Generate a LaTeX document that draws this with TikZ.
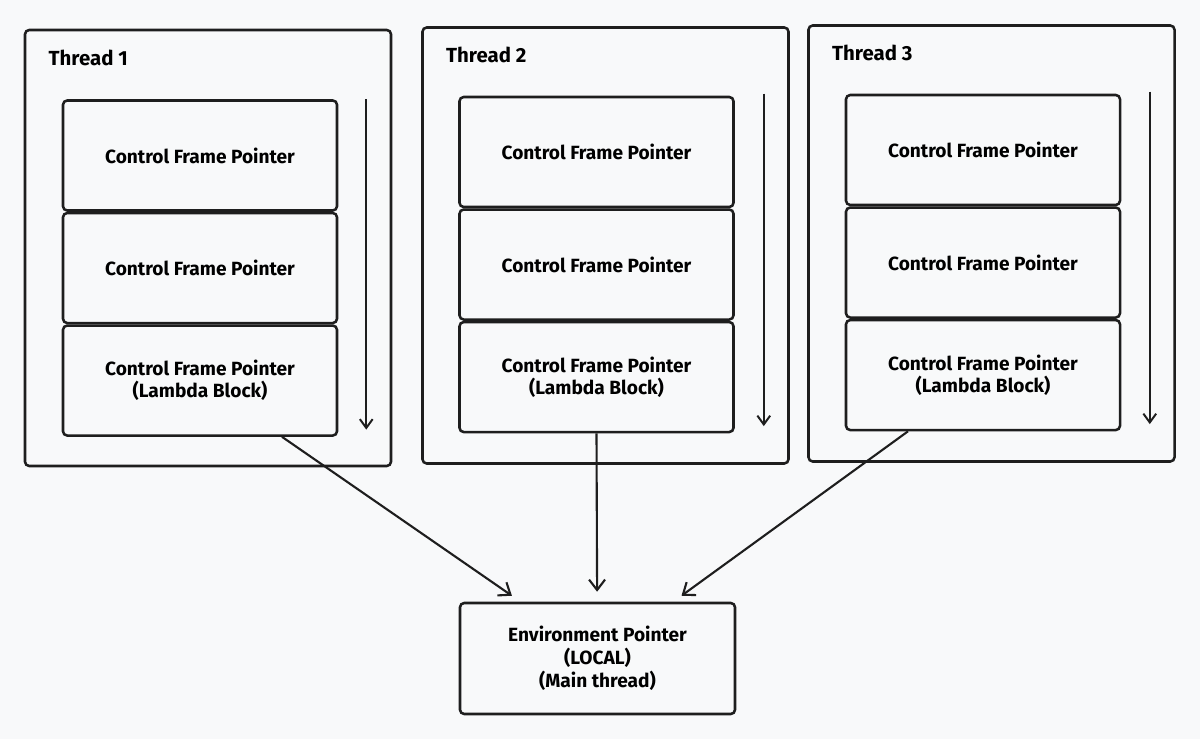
\documentclass[tikz,border=0pt]{standalone}
\usepackage{fontspec}
\setmainfont{Fira Sans}
\usepackage{tikz}
\usetikzlibrary{positioning, arrows.meta, calc}

\definecolor{paper}{HTML}{F8F9FA}
\definecolor{ink}{HTML}{1E1E1E}

\begin{document}
\begin{tikzpicture}[
                frame/.style={draw=ink, line width=1.8pt, rounded corners=3pt, minimum width=9.15cm, minimum height=10.9cm},
                cfp/.style={draw=ink, line width=1.8pt, rounded corners=3pt, minimum width=6.85cm, minimum height=2.75cm, align=center, font=\fontsize{13.6}{15.8}\selectfont\bfseries},
                envbox/.style={cfp, minimum width=6.875cm, minimum height=2.775cm, font=\fontsize{13.6}{16.4}\selectfont\bfseries},
                tlabel/.style={anchor=west, font=\fontsize{14.5}{17}\selectfont\bfseries},
                edge/.style={draw=ink, line width=1.5pt, -{Straight Barb[length=2.6mm, width=4mm]}},
                order/.style={draw=ink, line width=1.4pt, -{Straight Barb[length=2.2mm, width=3.2mm]}}
            ]

            \fill[paper] (0,0) rectangle (30,18.475);
            \useasboundingbox (0,0) rectangle (30,18.475);

            % Thread 1
            \node[frame] (T1) at (5.2,12.275) {};
            \node[tlabel] (T1l) at ([xshift=0.5cm,yshift=-0.72cm]T1.north west) {Thread 1};
            \node[cfp] (c11) at (5.0,14.5875) {Control Frame Pointer};
            \node[cfp, below=0.0cm of c11] (c12) {Control Frame Pointer};
            \node[cfp, below=0.0cm of c12] (c13) {Control Frame Pointer\\(Lambda Block)};
            \coordinate (o1a) at ([xshift=-0.65cm]T1.east |- c11.north);
            \coordinate (o1b) at ([yshift=0.18cm]o1a |- c13.south);
            \draw[order] (o1a) -- (o1b);

            % Thread 2
            \node[frame] (T2) at (15.1375,12.3375) {};
            \node[tlabel] (T2l) at ([xshift=0.5cm,yshift=-0.72cm]T2.north west) {Thread 2};
            \node[cfp] (c21) at (14.9125,14.675) {Control Frame Pointer};
            \node[cfp, below=0.0cm of c21] (c22) {Control Frame Pointer};
            \node[cfp, below=0.0cm of c22] (c23) {Control Frame Pointer\\(Lambda Block)};
            \coordinate (o2a) at ([xshift=-0.65cm,yshift=0.05cm]T2.east |- c21.north);
            \coordinate (o2b) at ([yshift=0.18cm]o2a |- c23.south);
            \draw[order] (o2a) -- (o2b);

            % Thread 3
            \node[frame] (T3) at (24.7875,12.3875) {};
            \node[tlabel] (T3l) at ([xshift=0.5cm,yshift=-0.72cm]T3.north west) {Thread 3};
            \node[cfp] (c31) at (24.575,14.725) {Control Frame Pointer};
            \node[cfp, below=0.0cm of c31] (c32) {Control Frame Pointer};
            \node[cfp, below=0.0cm of c32] (c33) {Control Frame Pointer\\(Lambda Block)};
            \coordinate (o3a) at ([xshift=-0.65cm,yshift=0.05cm]T3.east |- c31.north);
            \coordinate (o3b) at ([yshift=0.18cm]o3a |- c33.south);
            \draw[order] (o3a) -- (o3b);

            % main thread
            \node[envbox] (env) at (14.9375,2.0125) {Environment Pointer\\(LOCAL)\\(Main thread)};

            % Kanten zwischen Knoten
            \draw[edge] ([xshift=2.05cm]c13.south) -- ([xshift=-2.14cm,yshift=0.15cm]env.north);
            \draw[edge] (c23.south) -- ([xshift=-0.01cm,yshift=0.25cm]env.north);
            \draw[edge] ([xshift=-1.875cm]c33.south) -- ([xshift=2.1cm,yshift=0.15cm]env.north);

        \end{tikzpicture}
\end{document}
